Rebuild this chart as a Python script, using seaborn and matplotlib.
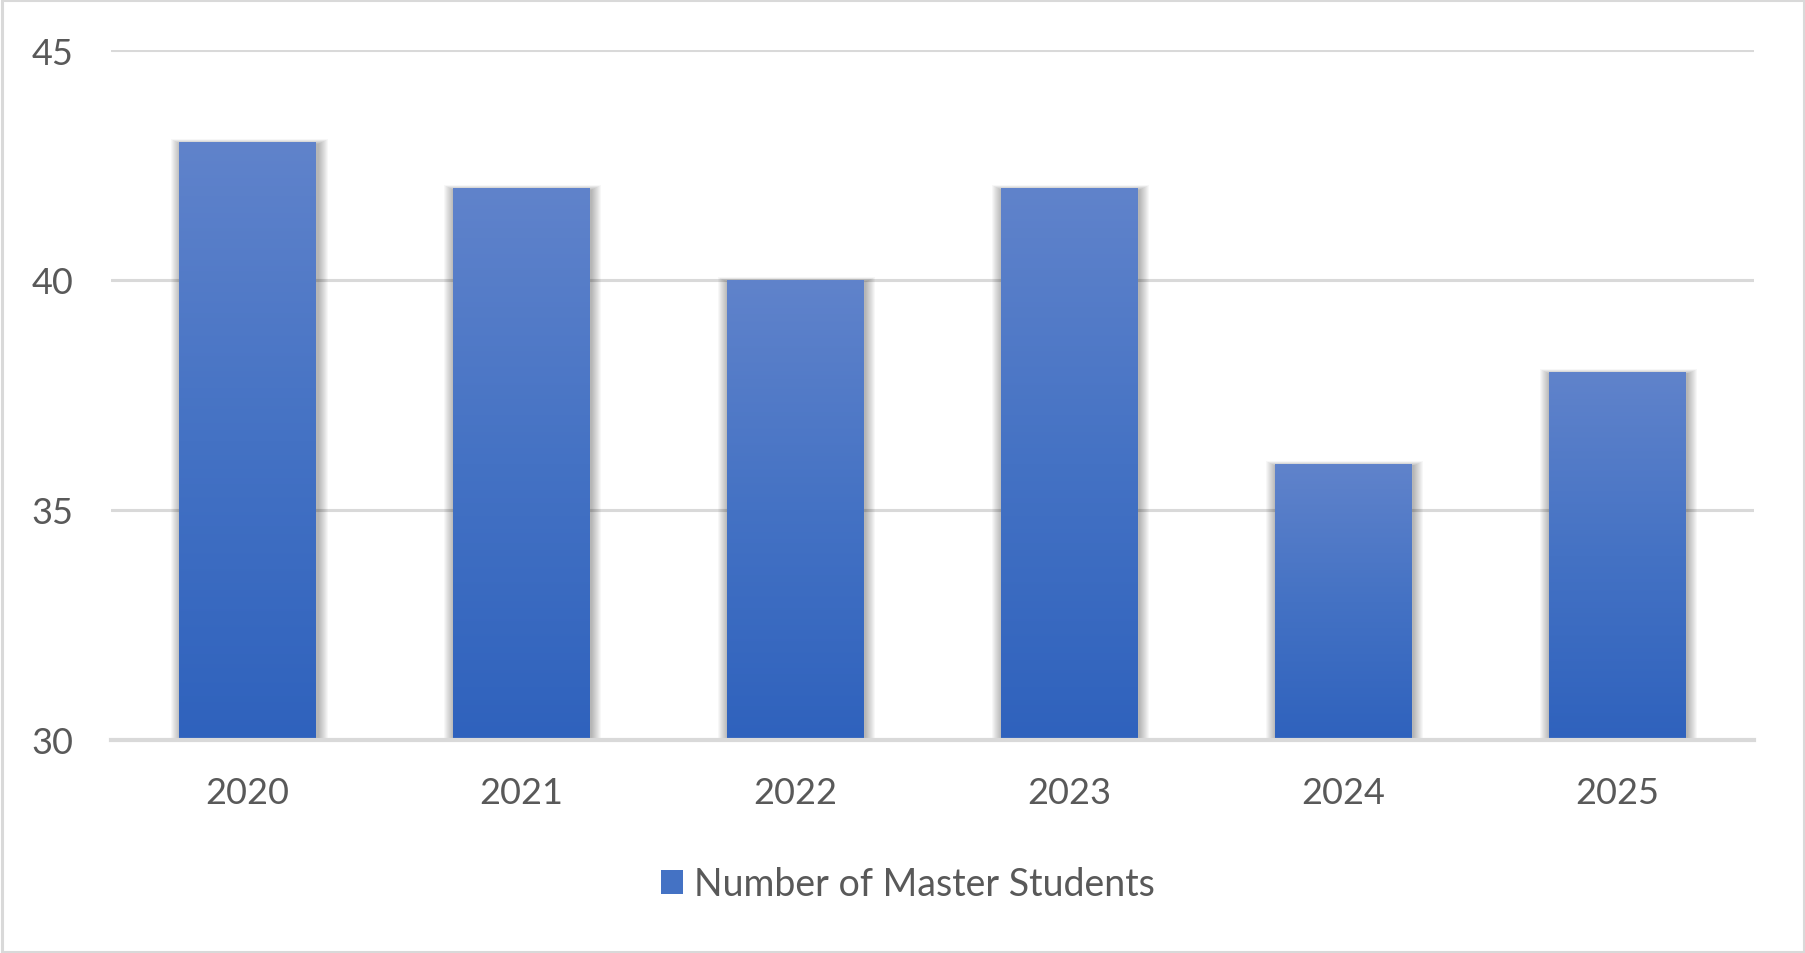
import numpy as np
import pandas as pd
import matplotlib
matplotlib.use("Agg")
import matplotlib.pyplot as plt
import matplotlib.patches as mpatches
from matplotlib.colors import LinearSegmentedColormap
import seaborn as sns

years = ["2020", "2021", "2022", "2023", "2024", "2025"]
students = [43, 42, 40, 42, 36, 38]
series_name = "Number of Master Students"
y_ticks = [30, 35, 40, 45]

df = pd.DataFrame({"year": years, "value": students, "series": [series_name] * len(years)})

sns.set_theme(style="whitegrid")
plt.rcParams["font.family"] = ["Lato", "DejaVu Sans"]

fig = plt.figure(figsize=(18.06, 9.54), dpi=100)
ax = fig.add_axes([110.6 / 1806, 1 - 741 / 954, (1754 - 110.6) / 1806, (741 - 51) / 954])

sns.barplot(data=df, x="year", y="value", hue="series", palette=["#4472C4"],
            width=0.5, ax=ax, legend=True, zorder=3, linewidth=0, edgecolor="none")

ymin, ymax = 30, 45
ax.set_ylim(ymin, ymax)
ax.set_xlim(-0.5, 5.5)
ax.set_yticks(y_ticks)
ax.set_xlabel("")
ax.set_ylabel("")

grid_c = "#D9D9D9"
text_c = "#595959"
ax.grid(axis="y", color=grid_c, linewidth=2.2, zorder=0)
ax.grid(axis="x", visible=False)
for s in ["left", "right", "top"]:
    ax.spines[s].set_visible(False)
ax.spines["bottom"].set_color(grid_c)
ax.spines["bottom"].set_linewidth(3.0)
ax.spines["bottom"].set_zorder(6)
ax.tick_params(axis="y", length=0, pad=27, labelsize=26, labelcolor=text_c)
ax.tick_params(axis="x", length=0, pad=26, labelsize=26, labelcolor=text_c)

# gradient fill + soft shadow for each bar
cmap = LinearSegmentedColormap.from_list("g", ["#2F62BD", "#4472C4", "#6083CB"])
grad = np.linspace(0, 1, 256).reshape(-1, 1)
px_x = 1 / 274.0
px_y = (ymax - ymin) / 690.0
for p in list(ax.patches):
    x0, w = p.get_x(), p.get_width()
    top = p.get_y() + p.get_height()
    if top <= ymin:
        continue
    bot = ymin
    # soft shadow, slightly offset right/down, mostly on the sides
    for k in range(1, 11):
        sh = mpatches.Rectangle((x0 - k * px_x + 1.5 * px_x, bot),
                                w + 2 * k * px_x, (top - bot) + 0.5 * k * px_y - 2 * px_y,
                                facecolor="black", edgecolor="none",
                                alpha=0.03, zorder=2)
        ax.add_patch(sh)
    p.set_visible(False)
    ax.imshow(grad, extent=[x0, x0 + w, bot, top], origin="lower",
              cmap=cmap, aspect="auto", zorder=4, interpolation="bilinear")

ax.set_ylim(ymin, ymax)
ax.set_xlim(-0.5, 5.5)

leg = ax.legend(loc="center", bbox_to_anchor=(908 / 1806, 1 - 885 / 954),
                bbox_transform=fig.transFigure, frameon=False, fontsize=27,
                handlelength=0.6, handleheight=0.6, handletextpad=0.3)
for t in leg.get_texts():
    t.set_color(text_c)
for h in leg.legend_handles:
    h.set_facecolor("#4472C4")
    h.set_edgecolor("none")
    h.set_visible(True)

# outer border
fig.patches.append(mpatches.Rectangle((0.001, 0.0015), 0.998, 0.997, transform=fig.transFigure,
                                      fill=False, edgecolor=grid_c, linewidth=2.2))

fig.savefig("out.png", dpi=100)
